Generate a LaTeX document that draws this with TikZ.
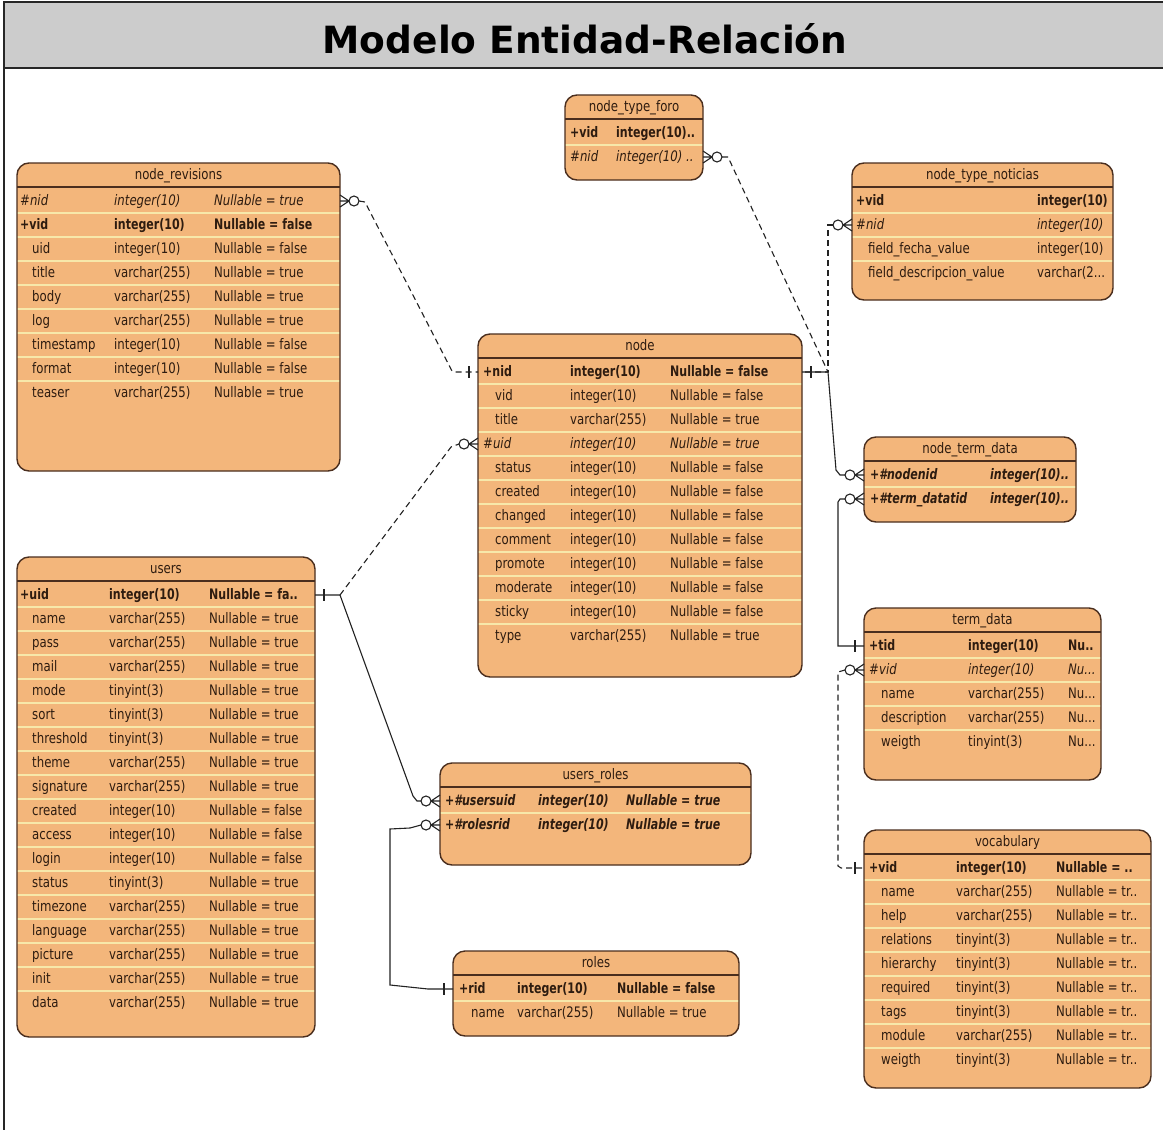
\documentclass[tikz,border=0pt]{standalone}
\usepackage{fontspec}
\usetikzlibrary{calc}

\newfontfamily\erreg{DejaVu Sans}[FakeStretch=0.81]
\newfontfamily\erbold{DejaVu Sans}[FakeStretch=0.76]
\newfontfamily\erhead{DejaVu Sans}
\newcommand\ersize{\fontsize{14.5pt}{16pt}\selectfont}
% truncation marks, kept as macros so \foreach does not read them as ranges
\newcommand\ertrail{...}

\definecolor{erfill}{HTML}{F3B67B}
\definecolor{ersep}{HTML}{F7E8AA}
\definecolor{erborder}{HTML}{4A2E1E}
\definecolor{ertext}{HTML}{2E1C10}
\definecolor{barfill}{HTML}{CCCCCC}
\definecolor{relline}{HTML}{222222}

\tikzset{
  tblbox/.style={fill=erfill, rounded corners=12pt, inner sep=0pt, outer sep=0pt},
  tblline/.style={draw=erborder, line width=1.4pt, rounded corners=12pt},
  hdrline/.style={draw=erborder, line width=1.4pt},
  sepline/.style={draw=ersep, line width=1.3pt},
  cell/.style={anchor=west, inner sep=0pt, text height=12.5pt, text depth=3.5pt, text=ertext},
  ttl/.style={cell, anchor=center, font=\erreg\ersize},
  % name column: k = key, f = foreign key, n = plain (indented), b = key + foreign key
  rk/.style={font=\erbold\bfseries\ersize},
  rf/.style={font=\erreg\itshape\ersize},
  rn/.style={font=\erreg\ersize, xshift=12pt},
  rb/.style={font=\erbold\bfseries\itshape\ersize},
  % type and nullable columns
  ck/.style={font=\erbold\bfseries\ersize},
  cf/.style={font=\erreg\itshape\ersize},
  cn/.style={font=\erreg\ersize},
  cb/.style={font=\erbold\bfseries\itshape\ersize},
  rel/.style={draw=relline, line width=1.1pt},
  fkline/.style={rel, dash pattern=on 6pt off 4pt},
  zm/.pic={
    \draw[rel, solid] (0,-6) -- (9,0) -- (0,6) (0,0) -- (9,0);
    \draw[rel, solid, fill=white] (14,0) circle[radius=5];
  },
  one/.pic={
    \draw[rel, solid] (9,-6) -- (9,6);
  }
}

% #1 name, #2 left, #3 top, #4 right, #5 bottom, #6 title
\newcommand{\ertable}[6]{%
  \def\erL{#2}\def\erT{#3}\def\erR{#4}%
  \node[tblbox, minimum width={#4-#2}, minimum height={#5-#3}, anchor=north west] (#1) at (#2,#3) {};
  \node[ttl] (#1-t) at ({(#2+#4)/2},{#3+12}) {#6};
}
% #1 table, #2 #3 #4 column x positions, #5 rows: style/name/type/nullable
\newcommand{\errows}[5]{%
  \begin{scope}
    \clip[rounded corners=12pt] (#1.north west) rectangle (#1.south east);
    \draw[hdrline] (\erL,\erT+24) -- (\erR,\erT+24);
    \foreach \st/\na/\ty/\nu [count=\i] in {#5} {
      \pgfmathsetmacro{\yy}{\erT+38+24*(\i-1)}
      \ifnum\i>1 \draw[sepline] (\erL,\yy-12) -- (\erR,\yy-12);\fi
      \node[cell, r\st] (#1-\i) at (#2,\yy) {\na};
      \node[cell, c\st] at (#3,\yy) {\ty};
      \node[cell, c\st] at (#4,\yy) {\nu};
    }
  \end{scope}
  \draw[tblline] (#1.north west) rectangle (#1.south east);
}

\begin{document}
\begin{tikzpicture}[x=1pt, y=-1pt]
\useasboundingbox (0,0) rectangle (1163,1130);
\clip (0,0) rectangle (1163,1130);
\fill[white] (0,0) rectangle (1163,1130);

% title bar and frame
\draw[fill=barfill, draw=black!85, line width=1.5pt] (4,2) rectangle (1170,68);
\draw[black!85, line width=1.5pt] (4,68) -- (4,1140);
\node[anchor=base, inner sep=0pt, font=\erhead\bfseries\fontsize{37.5pt}{40pt}\selectfont] (title) at (585,53) {Modelo Entidad-Relación};

% ---------------- tables ----------------
\ertable{nrev}{17}{163}{340}{471}{node\_revisions}
\errows{nrev}{20}{114}{214}{%
f/\#nid/integer(10)/Nullable = true,%
k/+vid/integer(10)/Nullable = false,%
n/uid/integer(10)/Nullable = false,%
n/title/varchar(255)/Nullable = true,%
n/body/varchar(255)/Nullable = true,%
n/log/varchar(255)/Nullable = true,%
n/timestamp/integer(10)/Nullable = false,%
n/format/integer(10)/Nullable = false,%
n/teaser/varchar(255)/Nullable = true}

\ertable{foro}{565}{95}{703}{180}{node\_type\_foro}
\errows{foro}{570}{616}{700}{%
k/+vid/integer(10)../{},%
f/\#nid/integer(10) ../{}}

\ertable{notic}{852}{163}{1113}{300}{node\_type\_noticias}
\errows{notic}{856}{1037}{1110}{%
k/+vid/integer(10)/{},%
f/\#nid/integer(10)/{},%
n/field\_fecha\_value/integer(10)/{},%
n/field\_descripcion\_value/varchar(2\ertrail/{}}

\ertable{node}{478}{334}{802}{677}{node}
\errows{node}{483}{570}{670}{%
k/+nid/integer(10)/Nullable = false,%
n/vid/integer(10)/Nullable = false,%
n/title/varchar(255)/Nullable = true,%
f/\#uid/integer(10)/Nullable = true,%
n/status/integer(10)/Nullable = false,%
n/created/integer(10)/Nullable = false,%
n/changed/integer(10)/Nullable = false,%
n/comment/integer(10)/Nullable = false,%
n/promote/integer(10)/Nullable = false,%
n/moderate/integer(10)/Nullable = false,%
n/sticky/integer(10)/Nullable = false,%
n/type/varchar(255)/Nullable = true}

\ertable{ntd}{864}{437}{1076}{522}{node\_term\_data}
\errows{ntd}{870}{990}{1070}{%
b/+\#nodenid/integer(10)../{},%
b/+\#term\_datatid/integer(10)../{}}

\ertable{td}{864}{608}{1101}{780}{term\_data}
\errows{td}{869}{968}{1068}{%
k/+tid/integer(10)/Nu..,%
f/\#vid/integer(10)/Nu\ertrail,%
n/name/varchar(255)/Nu\ertrail,%
n/description/varchar(255)/Nu\ertrail,%
n/weigth/tinyint(3)/Nu\ertrail}

\ertable{voc}{864}{830}{1151}{1088}{vocabulary}
\errows{voc}{869}{956}{1056}{%
k/+vid/integer(10)/Nullable = ..,%
n/name/varchar(255)/Nullable = tr..,%
n/help/varchar(255)/Nullable = tr..,%
n/relations/tinyint(3)/Nullable = tr..,%
n/hierarchy/tinyint(3)/Nullable = tr..,%
n/required/tinyint(3)/Nullable = tr..,%
n/tags/tinyint(3)/Nullable = tr..,%
n/module/varchar(255)/Nullable = tr..,%
n/weigth/tinyint(3)/Nullable = tr..}

\ertable{users}{17}{557}{315}{1037}{users}
\errows{users}{20}{109}{209}{%
k/+uid/integer(10)/Nullable = fa..,%
n/name/varchar(255)/Nullable = true,%
n/pass/varchar(255)/Nullable = true,%
n/mail/varchar(255)/Nullable = true,%
n/mode/tinyint(3)/Nullable = true,%
n/sort/tinyint(3)/Nullable = true,%
n/threshold/tinyint(3)/Nullable = true,%
n/theme/varchar(255)/Nullable = true,%
n/signature/varchar(255)/Nullable = true,%
n/created/integer(10)/Nullable = false,%
n/access/integer(10)/Nullable = false,%
n/login/integer(10)/Nullable = false,%
n/status/tinyint(3)/Nullable = true,%
n/timezone/varchar(255)/Nullable = true,%
n/language/varchar(255)/Nullable = true,%
n/picture/varchar(255)/Nullable = true,%
n/init/varchar(255)/Nullable = true,%
n/data/varchar(255)/Nullable = true}

\ertable{ur}{440}{763}{751}{865}{users\_roles}
\errows{ur}{445}{538}{626}{%
b/+\#usersuid/integer(10)/Nullable = true,%
b/+\#rolesrid/integer(10)/Nullable = true}

\ertable{roles}{453}{951}{739}{1036}{roles}
\errows{roles}{459}{517}{617}{%
k/+rid/integer(10)/Nullable = false,%
n/name/varchar(255)/Nullable = true}

% ---------------- attachment points ----------------
\coordinate (p-nrev) at (nrev.east |- nrev-1);
\coordinate (p-node-l) at (node.west |- node-1);
\coordinate (p-node-r) at (node.east |- node-1);
\coordinate (p-node-uid) at (node.west |- node-4);
\coordinate (p-foro) at (foro.east |- foro-2);
\coordinate (p-notic) at (notic.west |- notic-2);
\coordinate (p-ntd1) at (ntd.west |- ntd-1);
\coordinate (p-ntd2) at (ntd.west |- ntd-2);
\coordinate (p-td1) at (td.west |- td-1);
\coordinate (p-td2) at (td.west |- td-2);
\coordinate (p-voc) at (voc.west |- voc-1);
\coordinate (p-users) at (users.east |- users-1);
\coordinate (p-ur1) at (ur.west |- ur-1);
\coordinate (p-ur2) at (ur.west |- ur-2);
\coordinate (p-roles) at (roles.west |- roles-1);
\coordinate (hub) at ($(p-node-r)+(26,0)$);
\coordinate (fork) at ($(p-users)+(25,0)$);

% ---------------- relationships ----------------
% node_revisions.nid -> node.nid
\draw[fkline] ($(p-nrev)+(19,0)$) -- ($(p-nrev)+(25,1)$) -- ($(p-node-l)+(-26,-1)$) -- ($(p-node-l)+(-23,0)$) -- (p-node-l);
% node_type_foro.nid -> node.nid
\draw[fkline] ($(p-foro)+(19,0)$) -- ($(p-foro)+(25,0)$) -- (hub) -- (p-node-r);
% node_type_noticias.nid -> node.nid
\draw[fkline] ($(p-notic)+(-19,0)$) -- (hub |- p-notic) -- (hub);
% node_term_data.nodenid -> node.nid
\draw[rel] (p-node-r) -- (hub) -- ($(p-ntd1)+(-28,-5)$) -- ($(p-ntd1)+(-24,0)$) -- ($(p-ntd1)+(-19,0)$);
% node_term_data.term_datatid -> term_data.tid
\draw[rel] ($(p-ntd2)+(-19,0)$) -- ($(p-ntd2)+(-24,0)$) -- ($(p-ntd2)+(-26,3)$) -- ($(p-td1)+(-26,0)$) -- (p-td1);
% term_data.vid -> vocabulary.vid
\draw[fkline] ($(p-td2)+(-19,0)$) -- ($(p-td2)+(-26,2)$) -- ($(p-voc)+(-26,-2)$) -- ($(p-voc)+(-23,0)$) -- (p-voc);
% users.uid -> node.uid
\draw[fkline] (fork) -- ($(p-node-uid)+(-27,3)$) -- ($(p-node-uid)+(-19,0)$);
% users.uid -> users_roles.usersuid
\draw[rel] (p-users) -- (fork) -- ($(p-ur1)+(-27,-5)$) -- ($(p-ur1)+(-23,0)$) -- ($(p-ur1)+(-19,0)$);
% roles.rid -> users_roles.rolesrid
\draw[rel] ($(p-ur2)+(-19,0)$) -- ($(p-ur2)+(-30,3)$) -- ($(p-ur2)+(-50,4)$) -- ($(p-roles)+(-63,-4)$) -- ($(p-roles)+(-25,0)$) -- (p-roles);

% cardinality marks
\pic at (p-nrev) {zm};
\pic at (p-foro) {zm};
\pic[xscale=-1] at (p-notic) {zm};
\pic[xscale=-1] at (p-ntd1) {zm};
\pic[xscale=-1] at (p-ntd2) {zm};
\pic[xscale=-1] at (p-td2) {zm};
\pic[xscale=-1] at (p-node-uid) {zm};
\pic[xscale=-1] at (p-ur1) {zm};
\pic[xscale=-1] at (p-ur2) {zm};
\pic[xscale=-1] at (p-node-l) {one};
\pic at (p-node-r) {one};
\pic[xscale=-1] at (p-td1) {one};
\pic[xscale=-1] at (p-voc) {one};
\pic at (p-users) {one};
\pic[xscale=-1] at (p-roles) {one};
\end{tikzpicture}
\end{document}
